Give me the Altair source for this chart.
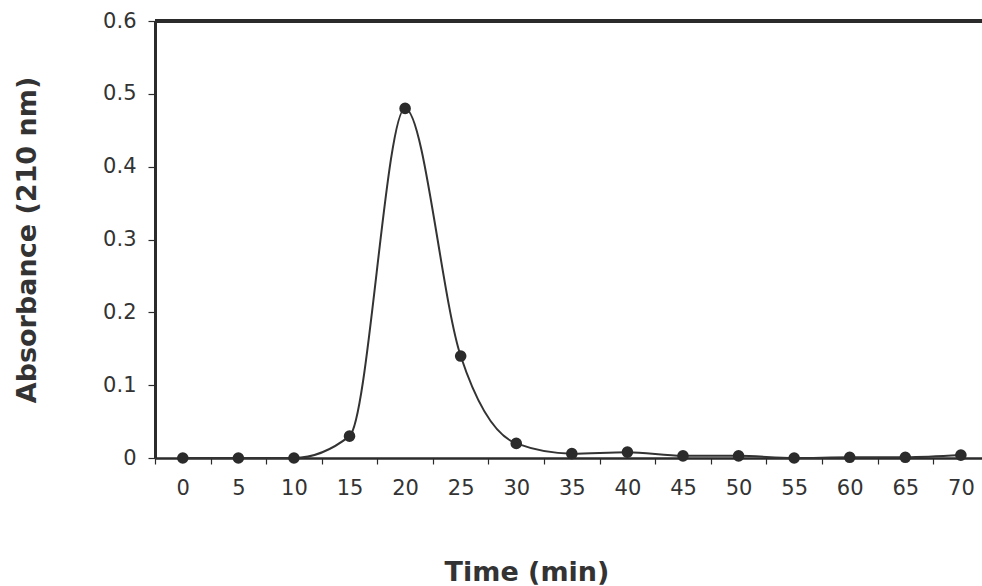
import altair as alt
import pandas as pd

# Elution profile: absorbance at 210 nm against time
times = [0, 5, 10, 15, 20, 25, 30, 35, 40, 45, 50, 55, 60, 65, 70]
absorbance = [0.0, 0.0, 0.0, 0.03, 0.48, 0.14, 0.02, 0.006, 0.008,
              0.003, 0.003, 0.0, 0.001, 0.001, 0.004]
y_ticks = [0, 0.1, 0.2, 0.3, 0.4, 0.5, 0.6]

df = pd.DataFrame({"time": times, "absorbance": absorbance})

PLOT_W = 827
PLOT_H = 437
X_MIN, X_MAX = -2.5, 71.9
HALF_STEP = 2.5
px_per_min = PLOT_W / (X_MAX - X_MIN)

FONT = "DejaVu Sans"
INK = "#2b2b2b"

x_scale = alt.Scale(domain=[X_MIN, X_MAX], nice=False, zero=False)
y_scale = alt.Scale(domain=[0, 0.6], nice=False, zero=True)

# ticks sit between the time points, labels are centred on them
x_axis = alt.Axis(
    values=[t - HALF_STEP for t in times],
    labelExpr="format(datum.value + 2.5, 'd')",
    labelOffset=HALF_STEP * px_per_min,
    labelOverlap=False,
    labelBound=False,
    labelFlush=False,
    tickSize=6,
    tickWidth=1.2,
    tickColor=INK,
    domainColor=INK,
    domainWidth=2.5,
    labelFont=FONT,
    labelFontSize=21,
    labelColor="#333333",
    labelBaseline="middle",
    labelPadding=24,
    grid=False,
    titleFont=FONT,
    titleFontSize=27,
    titleFontWeight="bold",
    titleColor="#333333",
    titleX=371.5,
    titleY=114,
    titleBaseline="middle",
    titleAlign="center",
)

y_axis = alt.Axis(
    values=y_ticks,
    format=".1~f",
    tickSize=7,
    tickWidth=1.2,
    tickColor=INK,
    domainColor=INK,
    domainWidth=3,
    labelFont=FONT,
    labelFontSize=21,
    labelColor="#333333",
    labelPadding=12,
    grid=False,
    titleFont=FONT,
    titleFontSize=27,
    titleFontWeight="bold",
    titleColor="#333333",
    titleX=-128,
    titleY=PLOT_H / 2,
    titleAngle=270,
    titleBaseline="middle",
    titleAlign="center",
)

Y_TITLE = "Absorbance (210 nm)"
X_TITLE = "Time (min)"

base = alt.Chart(df).encode(
    x=alt.X("time:Q", scale=x_scale, axis=x_axis, title=X_TITLE),
    y=alt.Y("absorbance:Q", scale=y_scale, axis=y_axis, title=Y_TITLE),
)

curve = base.mark_line(interpolate="monotone", color="#333333", strokeWidth=2)
dots = base.mark_circle(size=135, color=INK, opacity=1)

top_border = alt.Chart(df).mark_rule(color=INK, strokeWidth=3).encode(
    y=alt.Y(datum=0.6, scale=y_scale, title=Y_TITLE)
)

chart = (
    alt.layer(top_border, curve, dots)
    .properties(
        width=PLOT_W,
        height=PLOT_H,
        autosize=alt.AutoSizeParams(type="none"),
        padding={"left": 155, "top": 21, "right": 0, "bottom": 128},
        background="white",
    )
    .configure_view(stroke=None)
)

chart.save("out.html", embed_options={"renderer": "svg", "actions": False})
